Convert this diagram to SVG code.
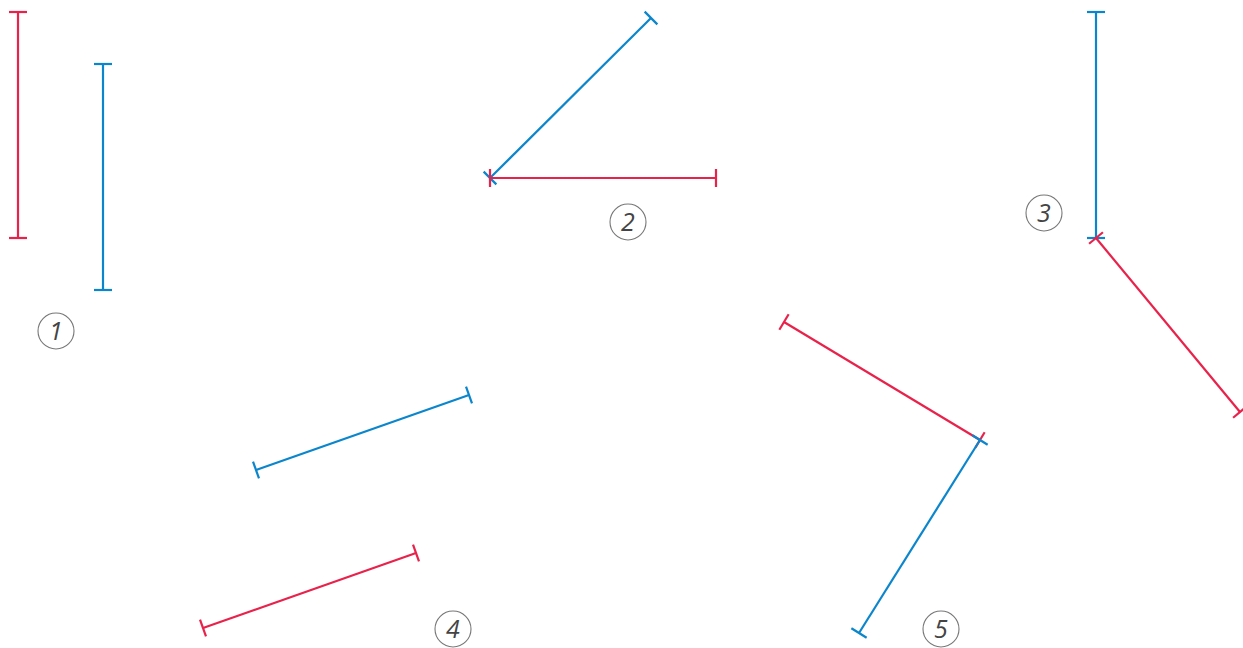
<svg xmlns="http://www.w3.org/2000/svg" width="1243" height="648" viewBox="0 0 1243 648">
<style>
.r{stroke:#e8224b;stroke-width:2.2;fill:none;marker-start:url(#capR);marker-end:url(#capR)}
.b{stroke:#0b86cc;stroke-width:2.2;fill:none;marker-start:url(#capB);marker-end:url(#capB)}
.c{fill:#fff;stroke:#777;stroke-width:1.1}
.t{font-family:"Open Sans","Liberation Sans",sans-serif;font-style:italic;font-size:25px;fill:#444;text-anchor:middle}
</style>
<defs>
<marker id="capR" markerUnits="userSpaceOnUse" markerWidth="20" markerHeight="20" viewBox="-10 -10 20 20" refX="0" refY="0" orient="auto" overflow="visible"><path d="M0,-9 L0,9" stroke="#e8224b" stroke-width="2.2"/></marker>
<marker id="capB" markerUnits="userSpaceOnUse" markerWidth="20" markerHeight="20" viewBox="-10 -10 20 20" refX="0" refY="0" orient="auto" overflow="visible"><path d="M0,-9 L0,9" stroke="#0b86cc" stroke-width="2.2"/></marker>
</defs>
<g id="connectors">
<line class="r" x1="18" y1="12" x2="18" y2="238"/>
<line class="b" x1="103" y1="64" x2="103" y2="290"/>
<line class="b" x1="490" y1="178" x2="651" y2="18"/>
<line class="r" x1="490" y1="178" x2="716" y2="178"/>
<line class="b" x1="1096" y1="12" x2="1096" y2="238"/>
<line class="r" x1="1096" y1="238" x2="1240" y2="412"/>
<line class="b" x1="256" y1="470" x2="469" y2="395"/>
<line class="r" x1="203" y1="628" x2="416" y2="553"/>
<line class="r" x1="784" y1="322" x2="980" y2="440"/>
<line class="b" x1="980" y1="440" x2="859" y2="633"/>
</g>
<g id="label1"><circle class="c" cx="56" cy="331" r="18"/><text class="t" x="56" y="340">1</text></g>
<g id="label2"><circle class="c" cx="628" cy="222" r="18"/><text class="t" x="628" y="231">2</text></g>
<g id="label3"><circle class="c" cx="1044" cy="213" r="18"/><text class="t" x="1044" y="222">3</text></g>
<g id="label4"><circle class="c" cx="453" cy="629" r="18"/><text class="t" x="453" y="638">4</text></g>
<g id="label5"><circle class="c" cx="941" cy="629" r="18"/><text class="t" x="941" y="638">5</text></g>
</svg>
